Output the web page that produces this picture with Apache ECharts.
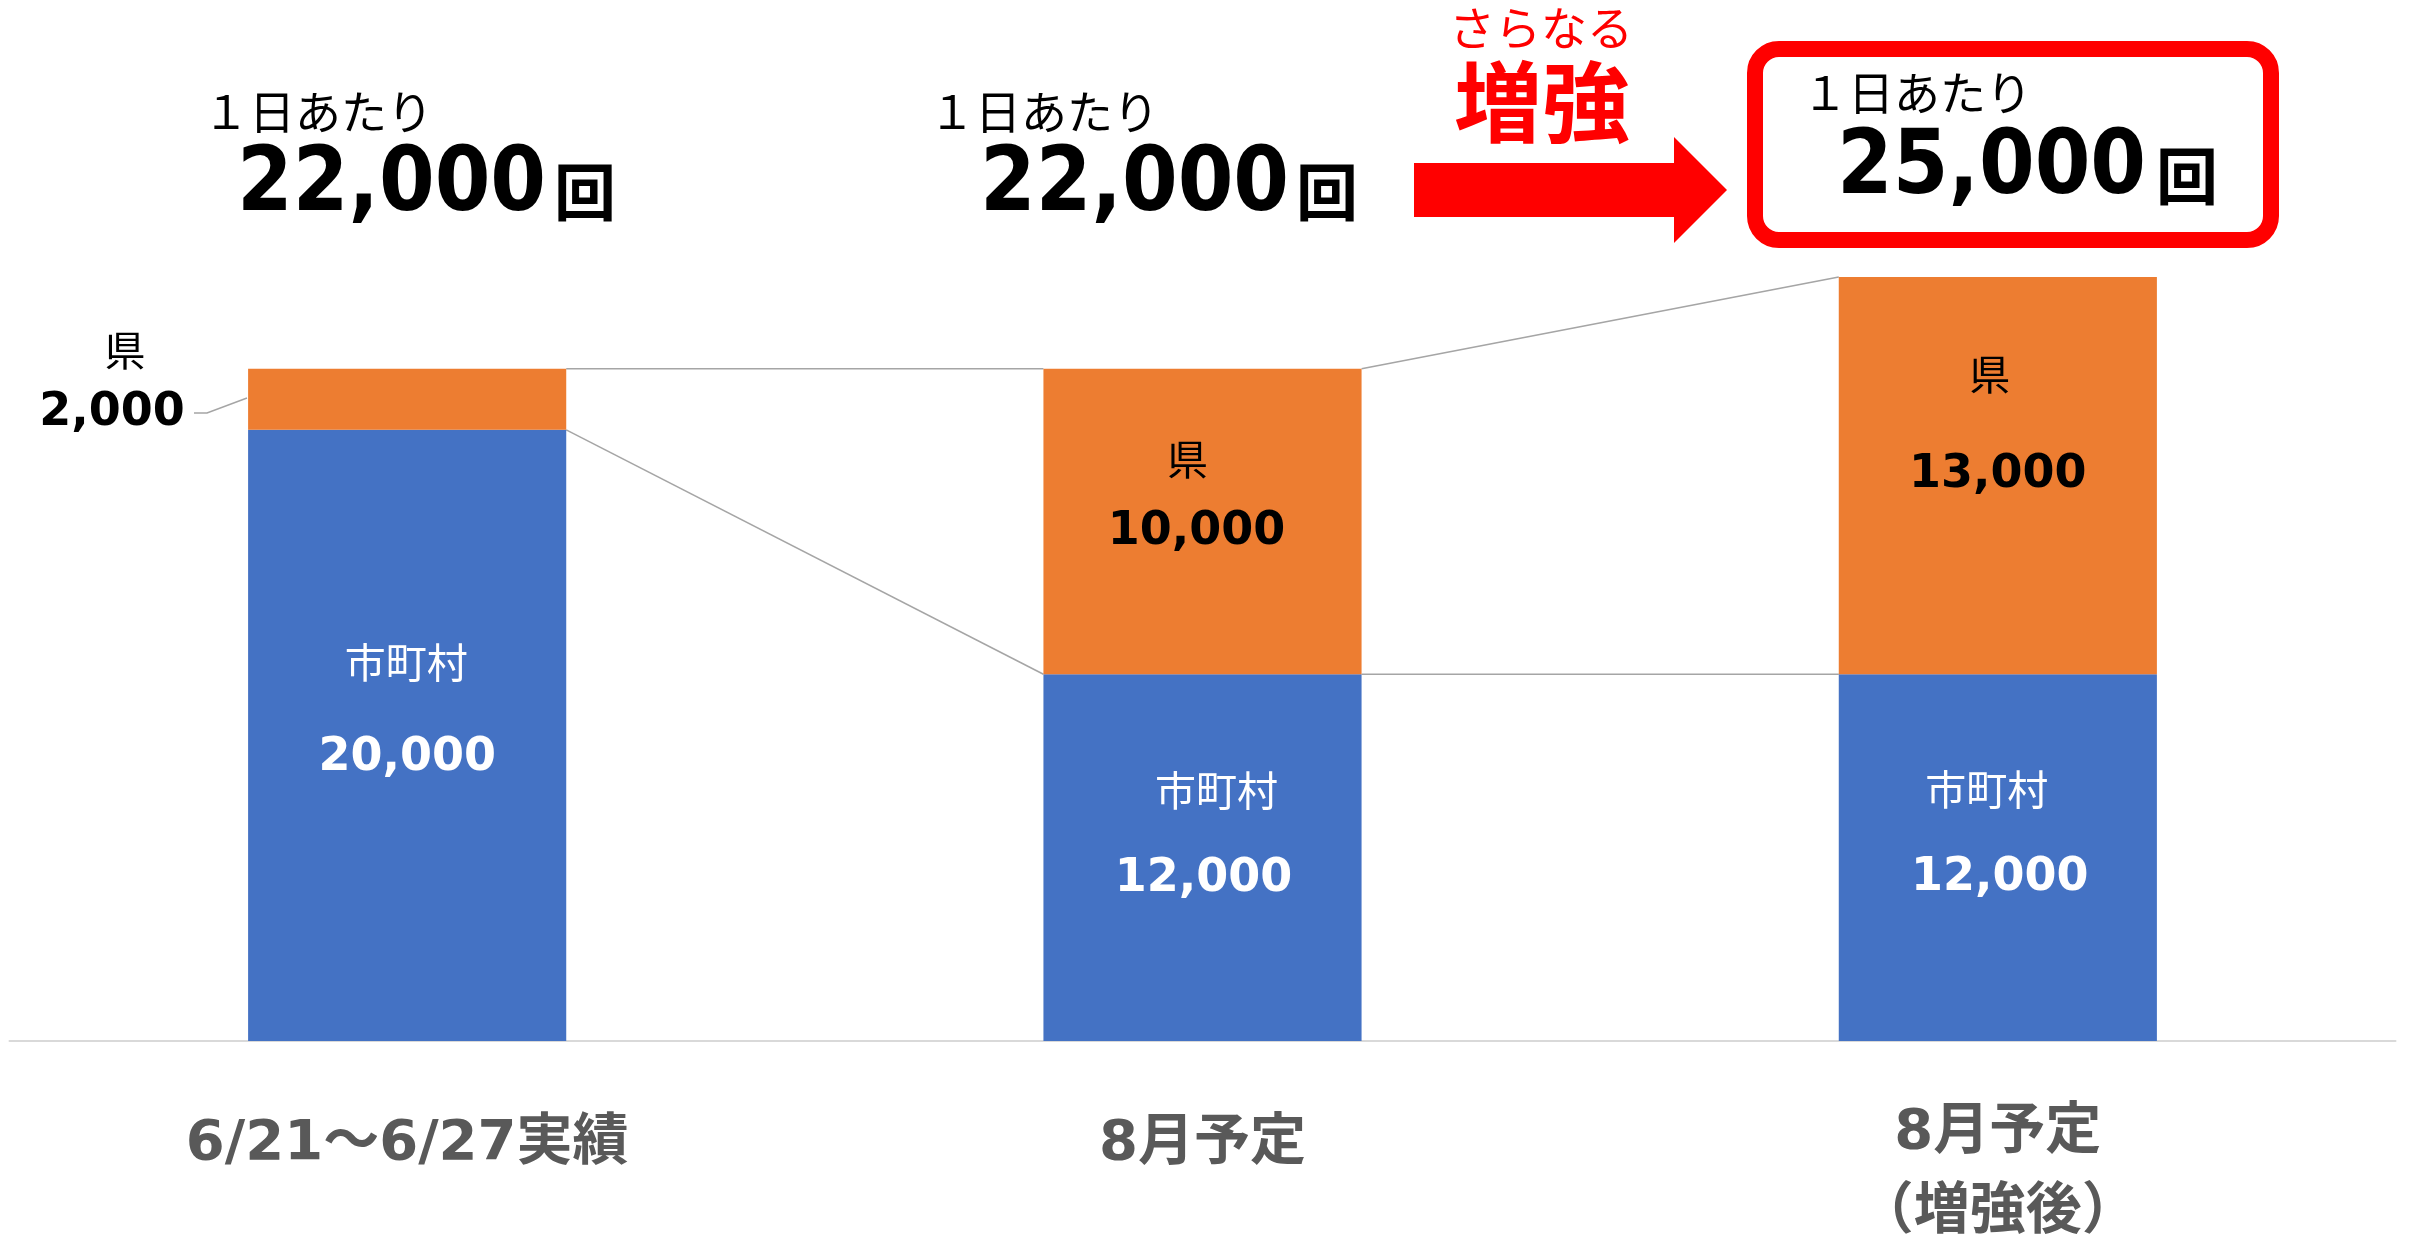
<!DOCTYPE html>
<html><head><meta charset="utf-8">
<script src="https://cdn.jsdelivr.net/npm/echarts@6/dist/echarts.min.js"></script>
<style>html,body{margin:0;padding:0;background:#fff}#c{width:2417px;height:1236px}</style>
</head><body><div id="c"></div>
<script>
// ---- data ----
const categories = ['6/21～6/27実績', '8月予定', '8月予定\n（増強後）'];
const municipal = [20000, 12000, 12000];
const prefecture = [2000, 10000, 13000];
const seriesNames = ['市町村', '県'];
const headerLabel = '１日あたり';
const unitLabel = '回';
const boostSmall = 'さらなる';
const boostBig = '増強';

const totals = municipal.map((v, i) => v + prefecture[i]);
const fmt = v => String(v).replace(/\B(?=(\d{3})+(?!\d))/g, ',');

const NUM = '"DejaVu Sans", "Noto Sans CJK JP", sans-serif';
const JP = '"Noto Sans CJK JP", "Noto Sans", sans-serif';
const BLUE = '#4472C4', ORANGE = '#ED7D31', RED = '#FF0000';

function lbl(color, gap, dx, dy, nameShift) {
  return {
    show: true, position: 'inside', offset: [dx, dy],
    formatter: p => `{n|${p.seriesName}}\n{v|${fmt(p.value)}}`,
    rich: {
      n: { fontFamily: JP, fontSize: 41, color: color, lineHeight: gap, padding: nameShift > 0 ? [0, 0, 0, nameShift] : [0, -nameShift, 0, 0] },
      v: { fontFamily: NUM, fontSize: 46, fontWeight: 'bold', color: color, lineHeight: gap }
    }
  };
}

const muniData = municipal.map((v, i) => ({
  value: v,
  label: [lbl('#fff', 96, 0, -25, -2), lbl('#fff', 88, 1, -23, 26), lbl('#fff', 88, 2, -24, -26)][i]
}));
const prefData = prefecture.map((v, i) => ({
  value: v,
  label: [
    Object.assign(lbl('#000', 63, 0, 0, 26), { position: [-136, 13], align: 'center', verticalAlign: 'middle' }),
    lbl('#000', 73, -6, -26, -18),
    lbl('#000', 100, 0, -51, -16)
  ][i]
}));

const topLinks = [[0, totals[0], totals[1]], [1, totals[1], totals[2]]];
const bottomLinks = [[0, municipal[0], municipal[1]], [1, municipal[1], municipal[2]]];

function linkRender(params, api) {
  const i = api.value(0);
  const a = api.coord([i, api.value(1)]);
  const b = api.coord([i + 1, api.value(2)]);
  const hw = api.size([1, 0])[0] * 0.2;
  return { type: 'line', shape: { x1: a[0] + hw, y1: a[1], x2: b[0] - hw, y2: b[1] },
    style: { stroke: '#A5A5A5', lineWidth: 1.5 } };
}

function txt(text, x, y, size, weight, color, family, align, sx) {
  return { type: 'text', x: x, y: y, z: 10, scaleX: sx || 1,
    style: { text: text, fontSize: size, fontWeight: weight, fontFamily: family, fill: color,
      align: align || 'left', verticalAlign: 'middle' } };
}

const heads = [
  { hx: 203, hy: 112, nx: 237, ny: 187, ux: 554, uy: 192 },
  { hx: 929, hy: 112, nx: 980, ny: 187, ux: 1296, uy: 192 },
  { hx: 1802, hy: 93, nx: 1837, ny: 170, ux: 2156, uy: 176 }
];
const graphics = [
  { type: 'rect', z: 5, shape: { x: 1755, y: 49, width: 516, height: 191, r: 24 },
    style: { fill: '#fff', stroke: RED, lineWidth: 16 } },
  { type: 'polygon', z: 5, shape: { points: [[1414,163],[1674,163],[1674,137],[1727,190],[1674,243],[1674,217],[1414,217]] },
    style: { fill: RED } },
  { type: 'polyline', z: 5, shape: { points: [[194,413],[207,413],[247,398]] },
    style: { stroke: '#A5A5A5', lineWidth: 1.5, fill: null } },
  txt(boostSmall, 1541, 28, 46, 'normal', RED, JP, 'center'),
  txt(boostBig, 1542, 102, 88, 'bold', RED, JP, 'center')
];
heads.forEach((h, i) => {
  graphics.push(txt(headerLabel, h.hx, h.hy, 46, 'normal', '#000', JP));
  graphics.push(txt(fmt(totals[i]), h.nx, h.ny, 89, 'bold', '#000', NUM, 'left', 0.9));
  graphics.push(txt(unitLabel, h.ux, h.uy, 62, 'bold', '#000', JP));
});

const chart = echarts.init(document.getElementById('c'), null, { renderer: 'canvas' });
chart.setOption({
  animation: false,
  backgroundColor: '#fff',
  grid: { left: 9.5, right: 21.5, top: 277, bottom: 195, containLabel: false, outerBoundsMode: 'none' },
  xAxis: {
    type: 'category',
    data: categories.map((c, i) => i < 2 ? { value: c, textStyle: { padding: [11, 0, 0, 0] } } : c),
    axisLine: { lineStyle: { color: '#D9D9D9', width: 2 } },
    axisTick: { show: false },
    axisLabel: { margin: 52, verticalAlign: 'top', lineHeight: 80, fontSize: 56, fontWeight: 'bold',
      color: '#595959', fontFamily: NUM, interval: 0 }
  },
  yAxis: { type: 'value', min: 0, max: 25000, show: false, splitLine: { show: false } },
  series: [
    { name: seriesNames[0], type: 'bar', stack: 'total', barWidth: '40%', data: muniData,
      itemStyle: { color: BLUE }, z: 3 },
    { name: seriesNames[1], type: 'bar', stack: 'total', barWidth: '40%', data: prefData,
      itemStyle: { color: ORANGE }, z: 3 },
    { type: 'custom', renderItem: linkRender, data: topLinks, encode: { x: 0, y: 1 }, z: 2, silent: true },
    { type: 'custom', renderItem: linkRender, data: bottomLinks, encode: { x: 0, y: 1 }, z: 2, silent: true }
  ],
  graphic: graphics
});
</script></body></html>
